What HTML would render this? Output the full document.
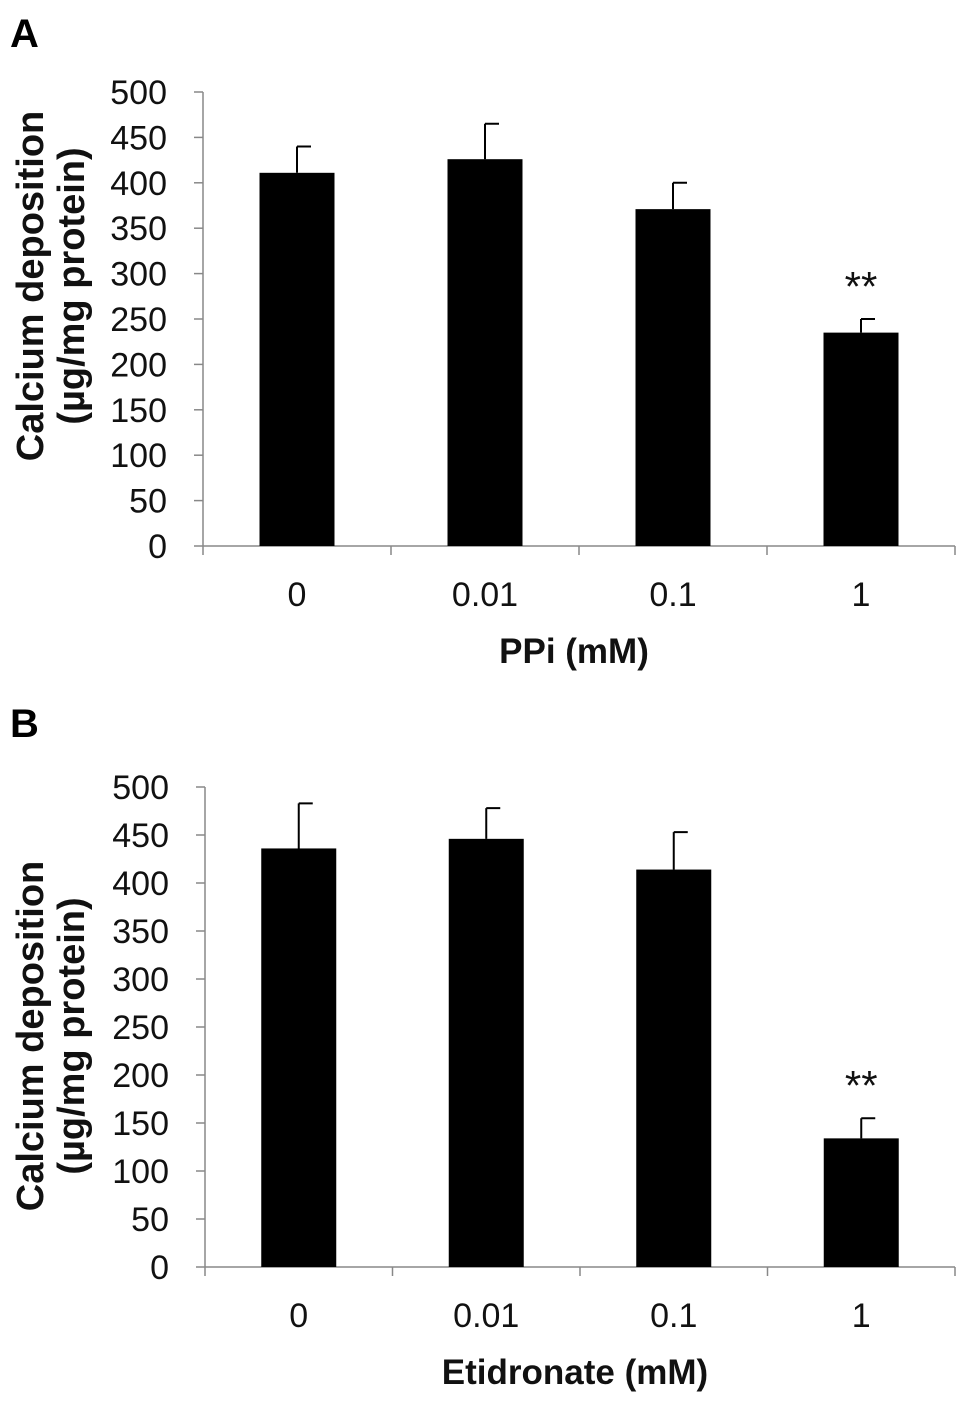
<!DOCTYPE html>
<html><head><meta charset="utf-8"><style>
body{margin:0;background:#fff;}
svg{display:block;font-family:"Liberation Sans",Arial,sans-serif;}
</style></head><body>
<svg id="svg" width="969" height="1403" viewBox="0 0 969 1403">
<text x="10" y="47" font-size="40" font-weight="bold">A</text>
<text x="10" y="737" font-size="40" font-weight="bold">B</text>
</svg>
<script>
const categories = ["0","0.01","0.1","1"];
const tickLabels = [0,50,100,150,200,250,300,350,400,450,500];
const valuesA = [411,426,371,235];
const errorsA = [440,465,400,250];
const sigA = ["","","","**"];
const valuesB = [436,446,414,134];
const errorsB = [483,478,453,155];
const sigB = ["","","","**"];
const NS="http://www.w3.org/2000/svg";
const svg=document.getElementById('svg');
function mk(tag,attrs,parent){const e=document.createElementNS(NS,tag);for(const k in attrs)e.setAttribute(k,attrs[k]);(parent||svg).appendChild(e);return e;}
function panel(id,vals,errs,sig,x0,x1,yZero,yTop,xTitle,yTitleCy){
  const g=mk('g',{});
  
  
  const maxV=500;
  const y=v=>yZero-(v/maxV)*(yZero-yTop);
  const bw=(x1-x0)/categories.length;
  const xc=i=>x0+bw*(i+0.5);
  tickLabels.forEach(t=>{
    const l=mk('line',{x1:x0-9,x2:x0,y1:y(t),y2:y(t),stroke:'#888','stroke-width':1.5},g);
    
    
    const tx=mk('text',{x:x0-36,y:y(t)+12,'font-size':34,'text-anchor':'end',fill:'#111'},g);
    tx.textContent=t;
    
    
  });
  const ax=mk('line',{x1:x0,x2:x0,y1:yTop,y2:yZero,stroke:'#888','stroke-width':1.5},g);
  
  
  const xa=mk('line',{x1:x0,x2:x1,y1:yZero,y2:yZero,stroke:'#888','stroke-width':1.5},g);
  
  
  for(let i=0;i<=categories.length;i++){
    const l=mk('line',{x1:x0+bw*i,x2:x0+bw*i,y1:yZero,y2:yZero+9,stroke:'#888','stroke-width':1.5},g);
    
    
  }
  categories.forEach((c,i)=>{
    const cx=xc(i), w=75;
    const eb=mk('path',{d:`M${cx} ${y(vals[i])}V${y(errs[i])}M${cx} ${y(errs[i])}H${cx+14}`,stroke:'#000','stroke-width':2,fill:'none'},g);
    
    
    const r=mk('rect',{x:cx-w/2,y:y(vals[i]),width:w,height:yZero-y(vals[i]),fill:'#000'},g);
    
    
    const t=mk('text',{x:cx,y:yZero+60,'font-size':34,'text-anchor':'middle',fill:'#111'},g);
    t.textContent=c;
    
    
    if(sig[i]){
      const s=mk('text',{x:cx,y:y(errs[i])-18,'font-size':42,'text-anchor':'middle',fill:'#111'},g);
      s.textContent=sig[i];
      
      
    }
  });
  const xt=mk('text',{x:(x0+x1)/2-5,y:yZero+117,'font-size':35,'font-weight':'bold','text-anchor':'middle',fill:'#111'},g);
  xt.textContent=xTitle;
  
  
  const yt=mk('text',{transform:`translate(43,${yTitleCy}) rotate(-90)`,'font-size':38,'font-weight':'bold','text-anchor':'middle',fill:'#111'},g);
  
  
  const t1=mk('tspan',{x:0,y:0},yt);t1.textContent='Calcium deposition';
  const t2=mk('tspan',{x:0,y:41},yt);t2.textContent='(µg/mg protein)';
}
panel('a',valuesA,errorsA,sigA,203,955,546,92,'PPi (mM)',286);
panel('b',valuesB,errorsB,sigB,205,955,1267,787,'Etidronate (mM)',1036);
</script>
</body></html>
